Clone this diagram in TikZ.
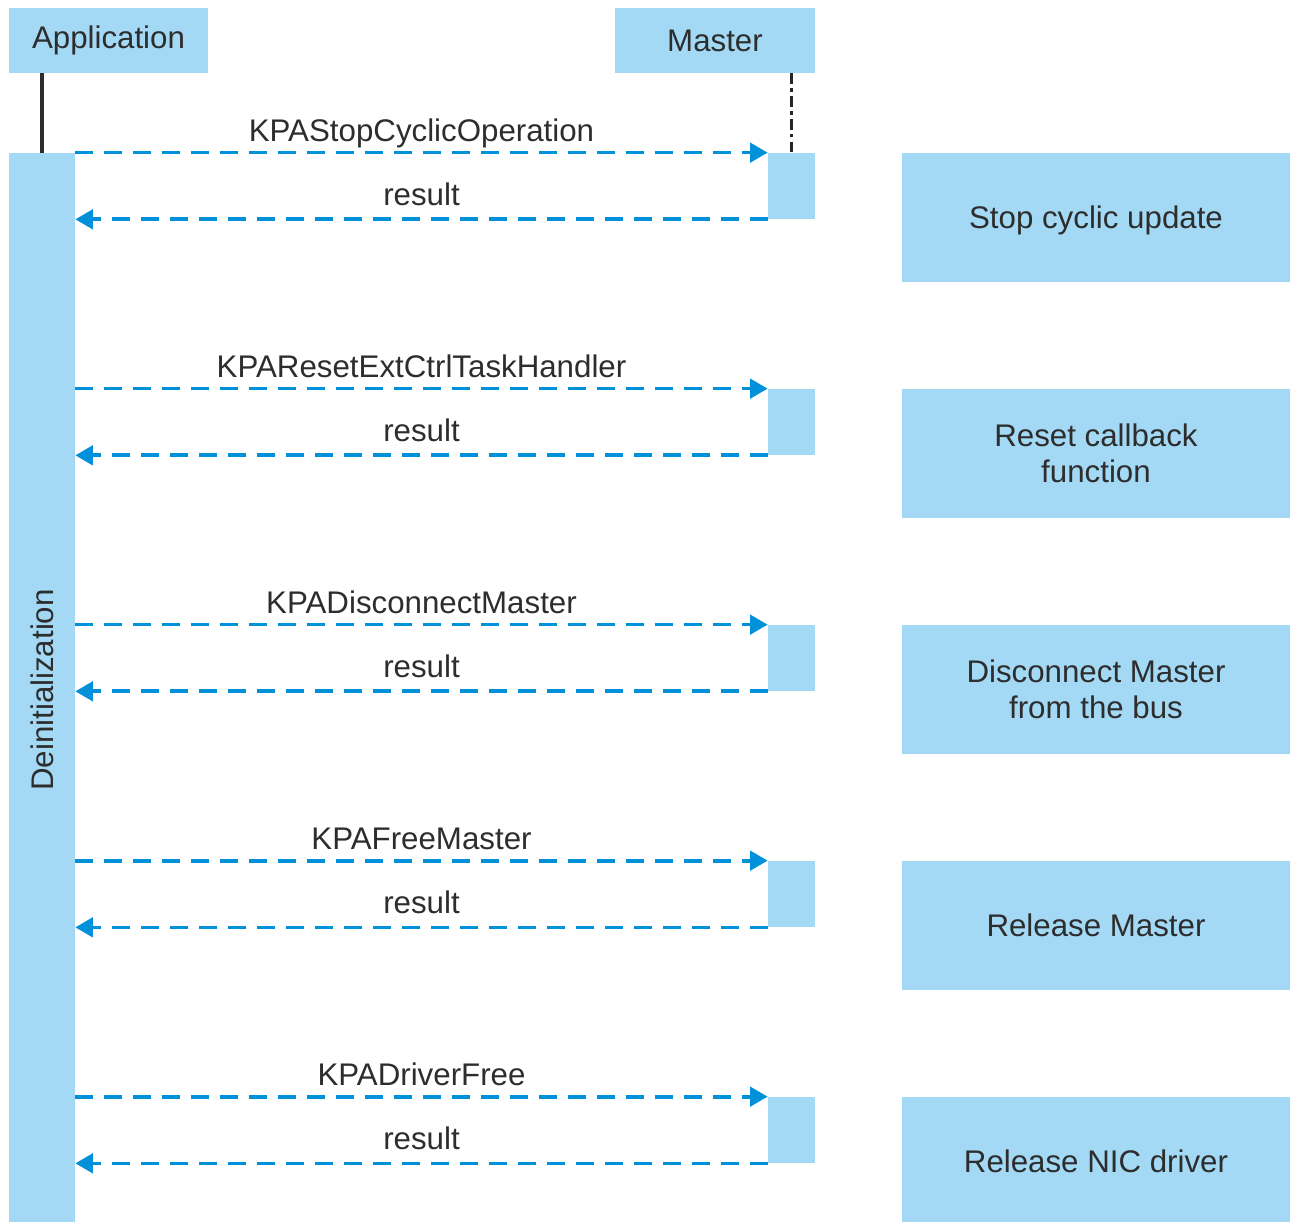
\documentclass[tikz,border=0pt]{standalone}
\usepackage{fontspec}
\setmainfont{Liberation Sans}
\usetikzlibrary{arrows.meta}
\definecolor{boxfill}{RGB}{163,217,245}
\definecolor{arrowblue}{RGB}{0,145,218}
\definecolor{txt}{RGB}{45,45,45}
\tikzset{
  x=0.02cm, y=-0.02cm,
  every node/.style={font=\fontsize{17.8}{20.5}\selectfont, text=txt},
  box/.style={fill=boxfill, draw=none, inner sep=0pt, align=center},
  msgline/.style={arrowblue, line width=2.1pt, dash pattern=on 10pt off 6.5pt, -{Triangle[length=10pt,width=11pt]}},
  clabel/.style={midway, anchor=base, yshift=6.3pt, inner sep=0pt},
  rlabel/.style={midway, anchor=base, yshift=8pt, inner sep=0pt},
}
\begin{document}
\begin{tikzpicture}
\useasboundingbox (0,0) rectangle (1295,1222);
% headers
\node[box, minimum width=3.98cm, minimum height=1.3cm] (app) at (108.5,40.5) {Application};
\node[box, minimum width=4cm, minimum height=1.3cm] (mst) at (715,40.5) {Master};
% application activation bar
\node[box, minimum width=1.32cm, minimum height=21.5cm, anchor=north] (bar) at (42,153) {};
\node[rotate=90] (deinit) at (42,690) {Deinitialization};
% lifelines
\draw[txt, line width=2.1pt] (app.south -| bar.north) -- (bar.north);
% master activations
\foreach \i/\y in {1/186,2/422,3/658,4/894,5/1130}{
  \node[box, minimum width=0.94cm, minimum height=1.32cm] (m\i) at (791.5,\y) {};
}
\draw[black!85, line width=2.1pt, dash pattern=on 6pt off 2.5pt on 2pt off 2.5pt] (mst.south -| m1.north) -- (m1.north);
% right boxes
\node[box, minimum width=7.76cm, minimum height=2.58cm, text depth=0pt] (s1) at (1096,217.5) {Stop cyclic update};
\node[box, minimum width=7.76cm, minimum height=2.58cm] (s2) at (1096,453.5) {Reset callback\\function};
\node[box, minimum width=7.76cm, minimum height=2.58cm] (s3) at (1096,689.5) {Disconnect Master\\from the bus};
\node[box, minimum width=7.76cm, minimum height=2.58cm] (s4) at (1096,925.5) {Release Master};
\node[box, minimum width=7.76cm, minimum height=2.58cm] (s5) at (1096,1161.5) {Release NIC driver};
% messages
\foreach \i/\lab in {1/KPAStopCyclicOperation,2/KPAResetExtCtrlTaskHandler,3/KPADisconnectMaster,4/KPAFreeMaster,5/KPADriverFree}{
  \draw[msgline] (bar.east |- m\i.north) -- node[clabel] {\lab} (m\i.north west);
  \draw[msgline] (m\i.south west) -- node[rlabel] {result} (bar.east |- m\i.south);
}
\end{tikzpicture}
\end{document}
